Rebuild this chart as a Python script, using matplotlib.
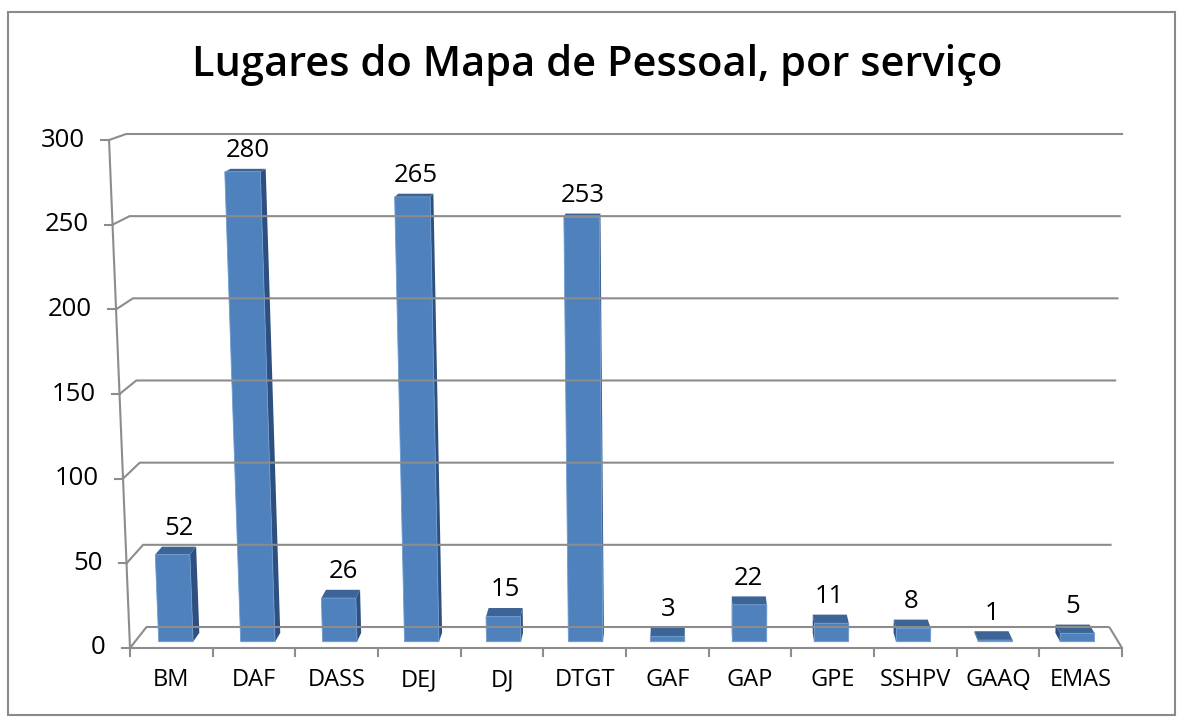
import numpy as np
import matplotlib
matplotlib.use('Agg')
import matplotlib.pyplot as plt
from matplotlib.patches import Polygon, Rectangle

# data
categorias = ['BM', 'DAF', 'DASS', 'DEJ', 'DJ', 'DTGT', 'GAF', 'GAP', 'GPE',
              'SSHPV', 'GAAQ', 'EMAS']
lugares = [52, 280, 26, 265, 15, 253, 3, 22, 11, 8, 1, 5]
yticks = [0, 50, 100, 150, 200, 250, 300]
titulo = 'Lugares do Mapa de Pessoal, por serviço'

plt.rcParams['font.family'] = ['Open Sans', 'DejaVu Sans']

# simple perspective helpers (data units: category index / value)
CX, CY = 6.77, 420.5      # depth vanishing centre
TX, K = 7.14, 8452.0      # vertical convergence
SHRINK = 0.0295           # scale loss from front (z=0) to back (z=1)
Z0, Z1 = 0.30, 0.72       # bar depth
BW = 0.42                 # bar width


def proj(i, v, z):
    x1 = TX + (i - TX) * (1 + v / K)
    s = 1 - SHRINK * z
    return CX + (x1 - CX) * s, CY + (v - CY) * s


def line(ax, pts, **kw):
    xs, ys = zip(*pts)
    ax.plot(xs, ys, solid_capstyle='butt', clip_on=False, **kw)


fig = plt.figure(figsize=(11.78, 7.19), dpi=100)
ax = fig.add_axes([0, 0, 1, 1])
px_x, px_y = 82.67, 1.6933
ax.set_xlim(-130 / px_x, (1178 - 130) / px_x)
ax.set_ylim((648 - 719) / px_y, 648 / px_y)
ax.axis('off')

grid_c = '#8c8c8c'
n = len(categorias)

# outer border
fig.patches.append(Rectangle((8 / 1178, 4 / 719), 1167 / 1178, 703 / 719,
                             transform=fig.transFigure, fill=False,
                             edgecolor='#8a8a8a', lw=1.5))

# walls / gridlines
for v in yticks:
    line(ax, [proj(0, v, 0), proj(0, v, 1), proj(n, v, 1)], color=grid_c, lw=1.5)
    x0, y0 = proj(0, v, 0)
    ax.plot([x0 - 8 / px_x, x0], [y0, y0], color=grid_c, lw=1.5, clip_on=False)
    ax.text(x0 - 24 / px_x, y0, str(v), ha='right', va='center', fontsize=18.5)

# y axis
line(ax, [proj(0, 0, 0), proj(0, 300, 0)], color=grid_c, lw=1.5)

# floor edges
line(ax, [proj(0, 0, 0), proj(n, 0, 0), proj(n, 0, 1)], color=grid_c, lw=1.5)
for i in range(n + 1):
    x0, y0 = proj(i, 0, 0)
    ax.plot([x0, x0], [y0, y0 - 8 / px_y], color=grid_c, lw=1.5, clip_on=False)

front_c, top_c, side_c = '#4F81BD', '#3C6496', '#2E5080'

for i, (cat, v) in enumerate(zip(categorias, lugares)):
    xl = i + 0.5 - BW / 2
    xr = i + 0.5 + BW / 2
    xc = i + 0.5
    if xc < CX:
        xs = xr
    else:
        xs = xl
    side = [proj(xs, 0, Z0), proj(xs, 0, Z1), proj(xs, v, Z1), proj(xs, v, Z0)]
    top = [proj(xl, v, Z0), proj(xr, v, Z0), proj(xr, v, Z1), proj(xl, v, Z1)]
    front = [proj(xl, 0, Z0), proj(xr, 0, Z0), proj(xr, v, Z0), proj(xl, v, Z0)]
    ax.add_patch(Polygon(side, closed=True, facecolor=side_c, edgecolor='none'))
    ax.add_patch(Polygon(top, closed=True, facecolor=top_c, edgecolor='none'))
    ax.add_patch(Polygon(front, closed=True, facecolor=front_c,
                         edgecolor='#6f9bd1', lw=0.6))
    lx, ly = proj(xc, v, Z1)
    ax.annotate(str(v), (lx, ly), xytext=(0, 13), textcoords='offset points',
                ha='center', va='center', fontsize=18.5)
    bx, by = proj(xc, 0, 0)
    ax.text(bx, by - 19, cat, ha='center', va='center', fontsize=17)

fig.text(597 / 1178, 1 - 65 / 719, titulo, ha='center', va='center',
         fontsize=30, fontweight='semibold')

fig.savefig('out.png', dpi=100)
